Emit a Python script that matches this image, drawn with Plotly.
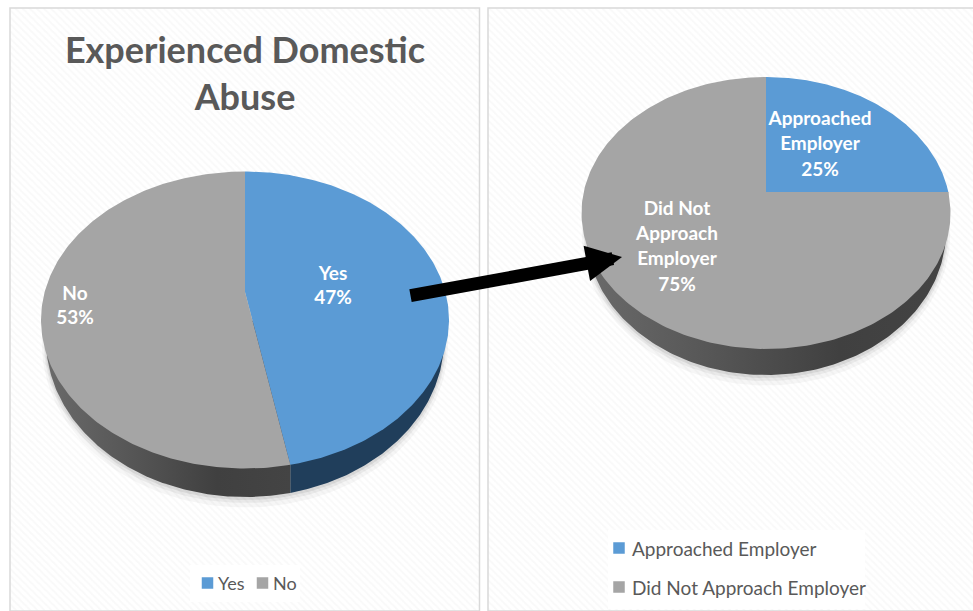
import numpy as np
import plotly.graph_objects as go

# Data
abuse_names = ["Yes", "No"]
abuse_values = [47, 53]
employer_names = ["Approached Employer", "Did Not Approach Employer"]
employer_values = [25, 75]
chart_title = "Experienced Domestic<br>Abuse"

# Style
BLUE = "#5B9BD5"
GREY = "#A5A5A5"
TEXT = "#595959"
FONT = "Lato"
W, H = 973, 611

# Tilted-disc geometry, in pixels
LEFT_DISC = dict(cx=245, cy=320, rx=204, ry=148.5, vy=292, bcy=340, brx=199, bry=157)
RIGHT_DISC = dict(cx=766, cy=213, rx=184.5, ry=136, vy=192, bcy=231, brx=180, bry=144)

fig = go.Figure()


def rim_point(disc, theta):
    """Where the ray from the disc's apex at slice angle theta meets the top ellipse."""
    dx = disc["rx"] * np.sin(theta)
    dy = -disc["ry"] * np.cos(theta)
    oy = disc["vy"] - disc["cy"]
    a = (dx / disc["rx"]) ** 2 + (dy / disc["ry"]) ** 2
    b = 2 * oy * dy / disc["ry"] ** 2
    c = (oy / disc["ry"]) ** 2 - 1
    s = (-b + np.sqrt(b * b - 4 * a * c)) / (2 * a)
    return disc["cx"] + s * dx, disc["vy"] + s * dy


def polygon(xs, ys, color=None, gradient=None, pattern=None):
    trace = dict(x=list(xs), y=list(ys), mode="lines", line=dict(width=0),
                 fill="toself", hoverinfo="skip", showlegend=False)
    if gradient:
        trace["fillgradient"] = dict(type="horizontal", colorscale=gradient)
    elif pattern:
        trace["fillpattern"] = pattern
    else:
        trace["fillcolor"] = color
    fig.add_trace(go.Scatter(**trace))


def panel(x0, y0, x1, y1):
    polygon([x0, x1, x1, x0, x0], [y0, y0, y1, y1, y0],
            pattern=dict(shape="\\", size=5, solidity=0.35, fgcolor="#F3F3F3", bgcolor="#FFFFFF"))
    fig.add_shape(type="rect", x0=x0, x1=x1, y0=y0, y1=y1,
                  line=dict(color="#D9D9D9", width=1.5), layer="above")


def draw_disc(disc, values, side_scales):
    cx, cy = disc["cx"], disc["cy"]
    bcy, brx, bry = disc["bcy"], disc["brx"], disc["bry"]

    # Soft shadow beneath the rim
    t = np.linspace(0, 2 * np.pi, 200)
    for grow, alpha in [(7, 0.035), (4, 0.05), (2, 0.07)]:
        polygon(cx + (brx + grow * 0.6) * np.cos(t), bcy + grow * 0.5 + (bry + grow) * np.sin(t),
                color=f"rgba(0,0,0,{alpha})")

    angles = 2 * np.pi * np.cumsum([0] + values) / sum(values)

    # Rim: the seam between slices runs straight down from the top edge
    seam_x, seam_y = rim_point(disc, angles[1])
    if seam_y > cy:
        seam_t = np.arccos((seam_x - cx) / brx)
        arc = np.linspace(0.0, seam_t, 120)
        polygon(list(cx + brx * np.cos(arc)) + [seam_x, cx],
                list(bcy + bry * np.sin(arc)) + [seam_y, cy], gradient=side_scales[0])
    else:
        seam_t = 0.0
    arc = np.linspace(seam_t, np.pi, 160)
    polygon(list(cx + brx * np.cos(arc)) + [cx, seam_x],
            list(bcy + bry * np.sin(arc)) + [cy, seam_y], gradient=side_scales[1])

    # Top surface
    for start, end, color in zip(angles[:-1], angles[1:], [BLUE, GREY]):
        pts = [rim_point(disc, a) for a in np.linspace(start, end, 240)]
        polygon([cx] + [p[0] for p in pts] + [cx],
                [disc["vy"]] + [p[1] for p in pts] + [disc["vy"]], color=color)


def slice_label(lines, x, y, step, size=19):
    fig.add_trace(go.Scatter(
        x=[x] * len(lines), y=[y + i * step for i in range(len(lines))],
        mode="text", text=[f"<b>{s}</b>" for s in lines], textposition="middle center",
        textfont=dict(family=FONT, size=size, color="#FFFFFF"),
        hoverinfo="skip", showlegend=False,
    ))


def legend_entry(name, color, x, y, text_x, size):
    fig.add_trace(go.Scatter(
        x=[x], y=[y], mode="markers",
        marker=dict(symbol="square", size=11.5, color=color, line=dict(width=0)),
        hoverinfo="skip", showlegend=False,
    ))
    fig.add_annotation(x=text_x, y=y, xref="x", yref="y", text=name, showarrow=False,
                       xanchor="left", yanchor="middle",
                       font=dict(family=FONT, size=size, color=TEXT))


def white_box(x0, y0, x1, y1):
    polygon([x0, x1, x1, x0, x0], [y0, y0, y1, y1, y0], color="rgba(255,255,255,0.9)")


panel(10, 8, 479.5, 611)
panel(488, 8, 980, 611)

side_blue = [[0, "#203E5B"], [1, "#203E5B"]]
side_grey = [[0, "#6A6A6A"], [0.35, "#565656"], [0.7, "#404040"], [1, "#444444"]]
draw_disc(LEFT_DISC, abuse_values, [side_blue, side_grey])
draw_disc(RIGHT_DISC, employer_values, [side_blue, side_grey])

# Slice labels
slice_label([abuse_names[0], f"{abuse_values[0]}%"], 333, 275, 24)
slice_label([abuse_names[1], f"{abuse_values[1]}%"], 75, 295, 24)
slice_label(employer_names[0].split() + [f"{employer_values[0]}%"], 820, 120, 25.5)
slice_label(["Did Not", "Approach", "Employer", f"{employer_values[1]}%"], 677, 210, 25.3)

# Legends
white_box(190, 565, 300, 602)
legend_entry(abuse_names[0], BLUE, 207.5, 583, 216, 18)
legend_entry(abuse_names[1], GREY, 262.5, 583, 271, 18)
white_box(608, 530, 865, 609)
legend_entry(employer_names[0], BLUE, 619, 548, 630, 19)
legend_entry(employer_names[1], GREY, 619, 587, 630, 19)

# Arrow linking the "Yes" slice to the employer breakdown
fig.add_annotation(x=622, y=257, ax=409, ay=296, xref="x", yref="y", axref="x", ayref="y",
                   text="", showarrow=True, arrowhead=2, arrowsize=0.55, arrowwidth=13,
                   arrowcolor="#000000", standoff=0)

fig.update_layout(
    width=W, height=H, margin=dict(l=0, r=0, t=0, b=0),
    autosize=False, showlegend=False,
    paper_bgcolor="#FFFFFF", plot_bgcolor="#FFFFFF",
    title=dict(text=f"<b>{chart_title}</b>", x=245 / W, xanchor="center",
               y=1 - 63 / H, yanchor="top",
               font=dict(family=FONT, size=36, color=TEXT)),
    xaxis=dict(range=[0, W], visible=False, fixedrange=True),
    yaxis=dict(range=[H, 0], visible=False, fixedrange=True),
)

fig.write_html("out.html", config=dict(displayModeBar=False))
